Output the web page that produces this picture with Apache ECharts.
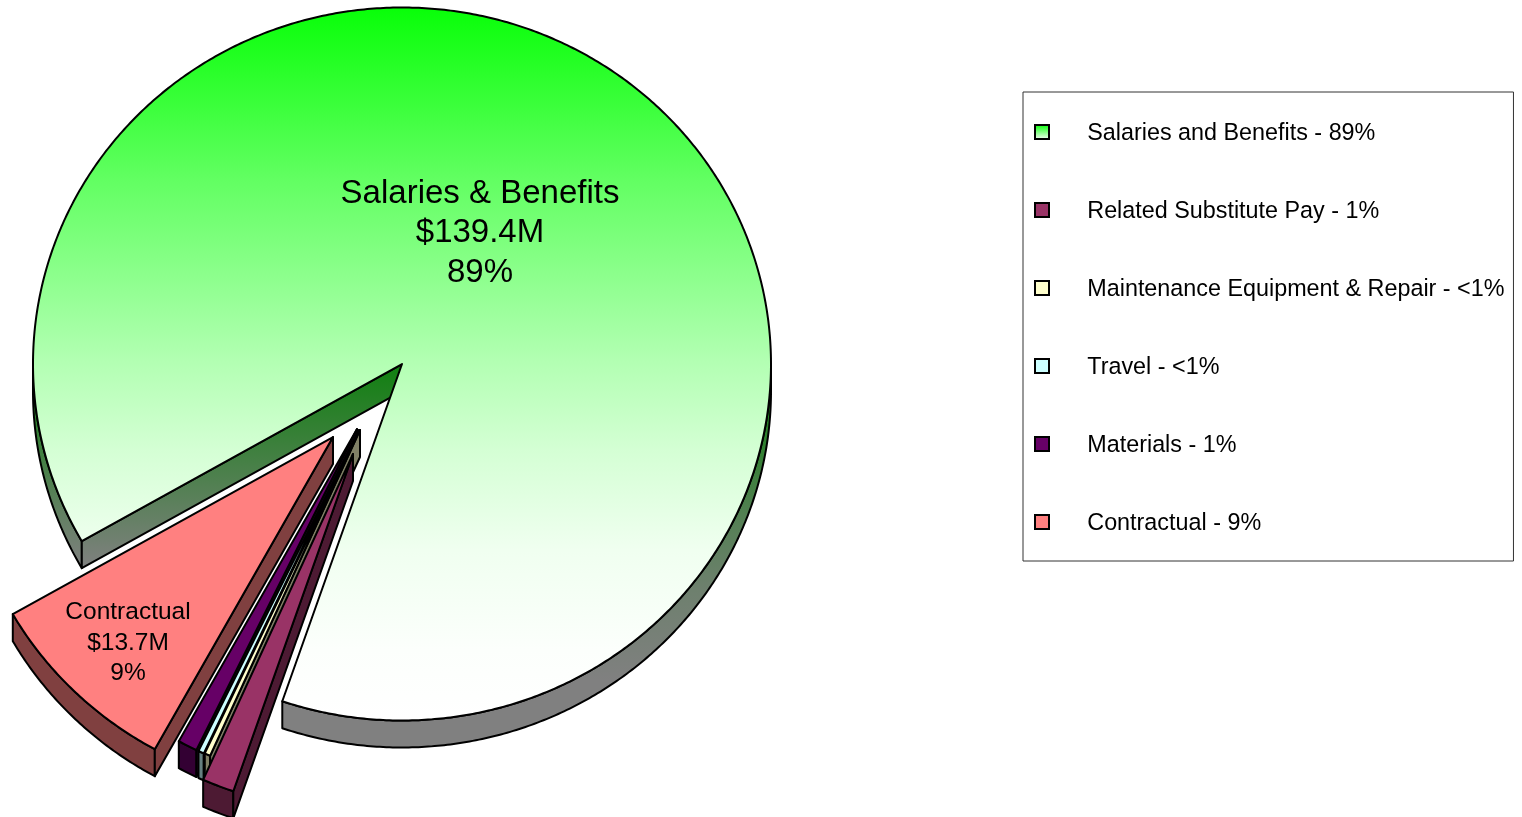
<!DOCTYPE html>
<html><head><meta charset="utf-8">
<style>html,body{margin:0;padding:0;background:#fff}#c{width:1522px;height:817px}</style>
<script src="https://cdn.jsdelivr.net/npm/echarts@6/dist/echarts.min.js"></script>
</head><body><div id="c"></div>
<script>
// Data, in clockwise drawing order starting from the Salaries slice
const categories = ['Salaries and Benefits','Related Substitute Pay','Maintenance Equipment & Repair','Travel','Materials','Contractual'];
const amounts = [139.4, 2.2, 0.4, 0.4, 1.35, 13.7];
const shareLabels = ['89%','1%','<1%','<1%','1%','9%'];

// Look
const topColors = ['#00ff00','#993366','#ffffcc','#ccffff','#660066','#ff8080'];
const wallColors = ['#108010','#4d1a33','#808066','#668080','#330033','#804040'];
const drawOrder = [1,6,5,4,3,2];
const explode = [[0,0],[-49,90],[-42,66],[-43,66],[-45,65],[-69,73]];
const centerX = 402, centerY = 364, radiusX = 369, radiusY = 356.5, depth = 27, startDeg = 150.2;
const total = amounts.reduce((a,b)=>a+b,0);
const edge = 2;

// Vertical shading of the large slice: [pixel y, red/blue channel], green stays constant
const topShade = [[7,8],[180,98],[360,178],[450,212],[550,240],[650,252],[720,255]];
const leftWallShade = [[364,16],[568,128]];
const rightWallShade = [[364,16],[460,55],[520,85],[590,110],[680,128],[747,128]];
function shade(stops,green){
  const y0=stops[0][0], y1=stops[stops.length-1][0];
  return new echarts.graphic.LinearGradient(0,y0,0,y1,stops.map(s=>({
    offset:(s[0]-y0)/(y1-y0),color:'rgb('+s[1]+','+green+','+s[1]+')'
  })),true);
}
function slice(i){
  let before = 0; for(let k=0;k<i;k++) before += amounts[k];
  const a = startDeg + before/total*360, b = a + amounts[i]/total*360;
  const ox = centerX + explode[i][0], oy = centerY + explode[i][1];
  return {a,b,ox,oy};
}
function pt(s,deg,dy){
  const r = deg*Math.PI/180;
  return [s.ox+radiusX*Math.cos(r), s.oy+radiusY*Math.sin(r)+(dy||0)];
}
function arc(s,a,b,dy){
  const out=[], n=Math.max(2,Math.ceil((b-a)/0.5));
  for(let k=0;k<=n;k++) out.push(pt(s,a+(b-a)*k/n,dy));
  return out;
}
function renderSlice(i){
  return function(){
    const s = slice(i), kids=[];
    const top = i===0 ? shade(topShade,255) : topColors[i];
    const st = (f)=>({fill:f,stroke:'#000',lineWidth:edge,lineJoin:'round'});
    // outer wall: the parts of the rim that face the viewer
    for(let k=0;k<2;k++){
      const lo=Math.max(s.a,360*k), hi=Math.min(s.b,360*k+180);
      if(hi>lo){
        const u=arc(s,lo,hi,0), d=arc(s,lo,hi,depth).reverse();
        const f = i===0 ? shade(k===0?leftWallShade:rightWallShade,128) : wallColors[i];
        kids.push({type:'polygon',shape:{points:u.concat(d)},style:st(f)});
      }
    }
    // radial walls
    const radial=(deg)=>{
      const p=pt(s,deg,0), q=pt(s,deg,depth);
      const f = i===0 ? shade(leftWallShade,128) : wallColors[i];
      kids.push({type:'polygon',shape:{points:[[s.ox,s.oy],p,q,[s.ox,s.oy+depth]]},style:st(f)});
    };
    if(Math.cos(s.a*Math.PI/180)<0) radial(s.a);
    if(Math.cos(s.b*Math.PI/180)>0) radial(s.b);
    // top face
    kids.push({type:'polygon',shape:{points:[[s.ox,s.oy]].concat(arc(s,s.a,s.b,0))},style:st(top)});
    return {type:'group',children:kids};
  };
}
const sliceLabels = [
  {text:'Salaries & Benefits\n$139.4M\n89%',x:480,y:233,size:33,lh:39.5},
  {text:'Contractual\n$13.7M\n9%',x:128,y:643,size:24.5,lh:30.5}
];
const chart = echarts.init(document.getElementById('c'),null,{renderer:'canvas'});
chart.setOption({
  animation:false,
  legend:{
    orient:'vertical',left:1023,top:92,
    borderColor:'#333',borderWidth:1,
    padding:[27,9,26,11],
    itemWidth:14,itemHeight:14,itemGap:52,
    icon:'rect',
    selectedMode:false,
    textStyle:{
      fontFamily:'Liberation Sans',fontSize:23.35,color:'#000',padding:[0,0,0,33],
      rich:{
        s:{fontSize:1,height:26,lineHeight:26},
        t:{fontFamily:'Liberation Sans',fontSize:23.35,color:'#000',lineHeight:26,verticalAlign:'bottom'}
      }
    },
    data:categories.map((n,i)=>({
      name:n,
      itemStyle:{color:i===0?new echarts.graphic.LinearGradient(0,0,0,1,[{offset:0,color:'#00ff00'},{offset:1,color:'#ffffff'}]):topColors[i],borderColor:'#000',borderWidth:2}
    })),
    formatter:(n)=>'{s| }{t|'+n+' - '+shareLabels[categories.indexOf(n)]+'}'
  },
  graphic:sliceLabels.map(l=>({
    type:'text',z:50,x:l.x,y:l.y,
    style:{text:l.text,fontFamily:'Liberation Sans',fontSize:l.size,lineHeight:l.lh,fill:'#000',align:'center',verticalAlign:'middle'}
  })),
  series:categories.map((n,i)=>({
    type:'custom',name:n,coordinateSystem:'none',z:drawOrder[i],
    data:[amounts[i]],
    silent:true,
    renderItem:renderSlice(i)
  }))
});
</script></body></html>
